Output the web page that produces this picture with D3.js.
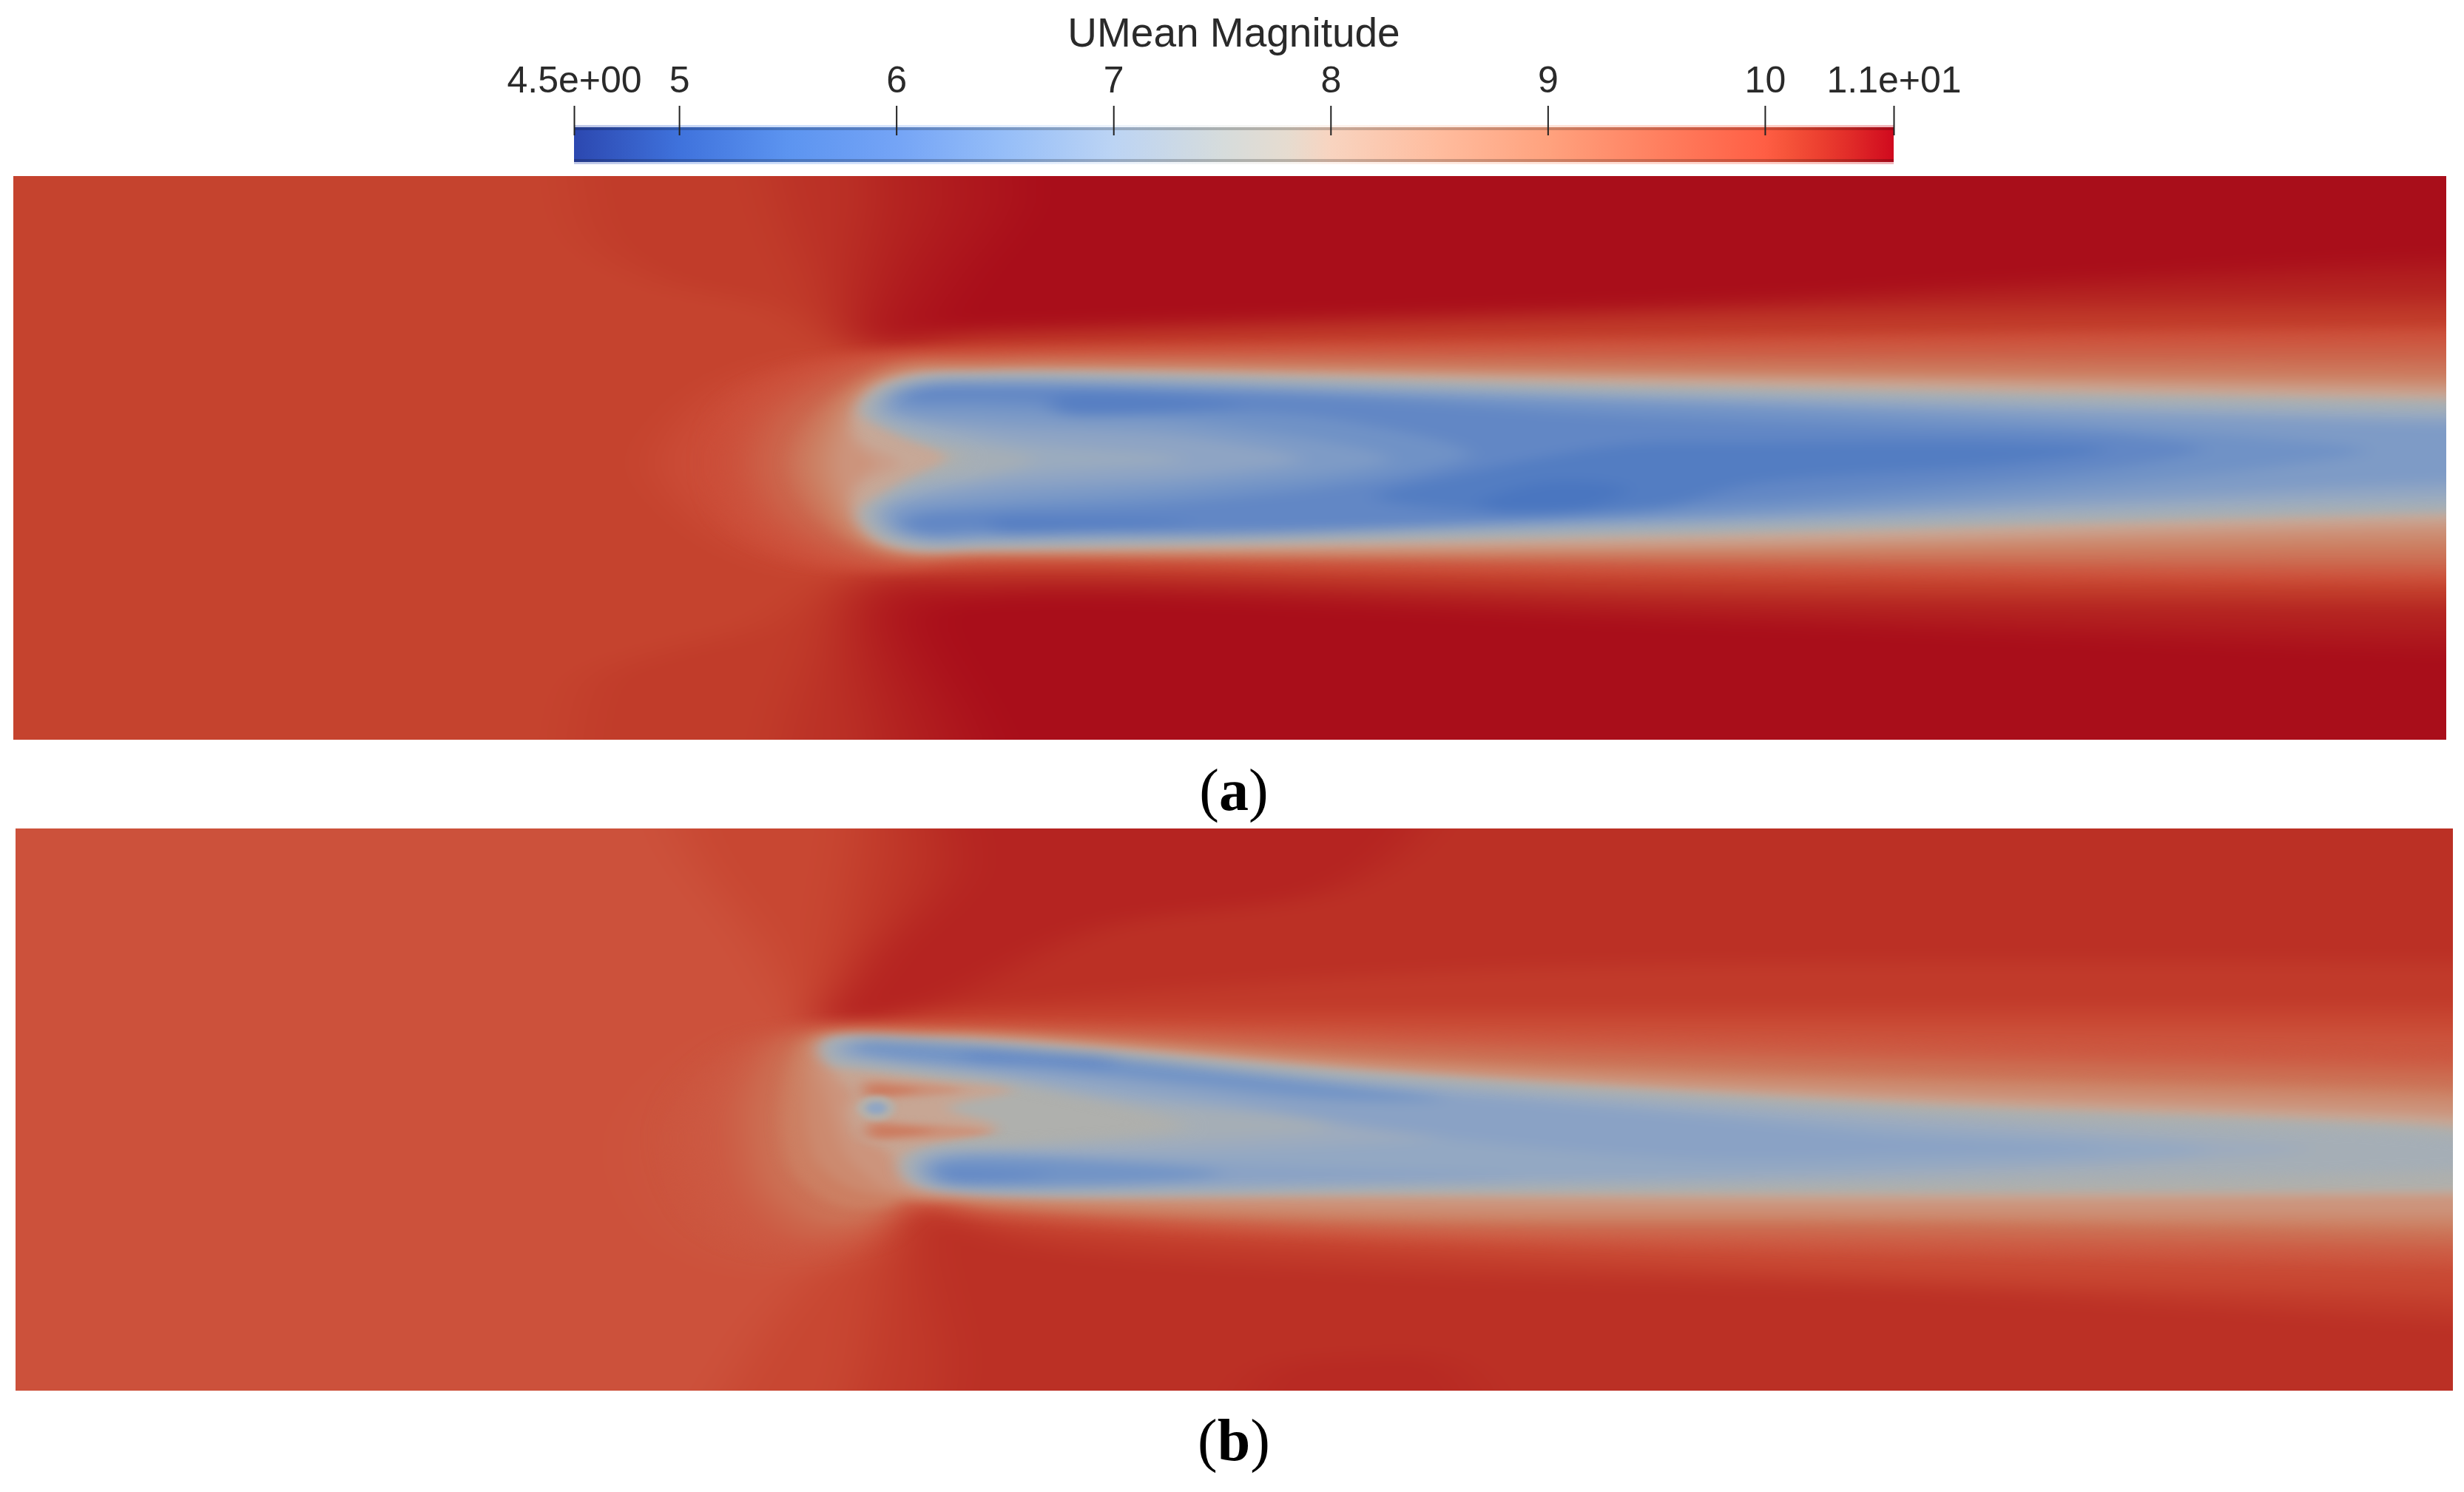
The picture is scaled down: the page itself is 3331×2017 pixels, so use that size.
<!DOCTYPE html>
<html>
<head>
<meta charset="utf-8">
<script src="https://cdn.jsdelivr.net/npm/d3@7"></script>
<style>
    html, body { margin: 0; padding: 0; background: #fff; }
</style>
</head>
<body>
<svg id="chart" width="3331" height="2017"></svg>
<script>
// colour bar
const colorStops = [4.52, 5, 5.5, 6, 6.5, 7, 7.5, 7.8, 8, 8.5, 9, 9.5, 10, 10.1, 10.25, 10.4, 10.59];
const colorValues = ['#2c48b0', '#3f72dc', '#5c94f0', '#74a4f6', '#96bef8', '#bcd4f4', '#d6dcdc', '#e6dcd0', '#f8d4c0',
    '#ffbc9e', '#ffa27e', '#ff8060', '#ff5e44', '#f6543a', '#ec4030', '#e02a28', '#d00a1e'];
const barTicks = [4.516, 5, 6, 7, 8, 9, 10, 10.593];
const barTickLabels = ['4.5e+00', '5', '6', '7', '8', '9', '10', '1.1e+01'];
const barTitle = 'UMean Magnitude';
const panelLabels = ['a', 'b'];

// isobands: [UMean, [[x, y], ...]], painted from the outside in
const baseA = 10.1;
const farFieldA = [
    [10.17, [[75.9, -10], [75.9, 0], [78.6, 8.7], [87.5, 14.2], [102.7, 17.7], [113.4, 23.2], [132, 23.5], [228, 22], [338, 20.5], [338, -10]]],
    [10.27, [[101.8, -10], [103, 0], [107, 12], [113.4, 22.5], [132, 22.2], [228, 19.7], [338, 18], [338, -10]]],
    [10.4, [[118, -10], [116, 4], [114.5, 21.8], [132, 21.2], [228, 18.2], [338, 16.3], [338, -10]]],
    [10.48, [[126, -10], [125.5, 4], [120, 14], [116.5, 21], [128, 21], [158, 20], [228, 17.7], [278, 15], [338, 13], [338, -10]]],
    [10.55, [[136.2, -10], [134.8, 4.2], [127.7, 14.2], [124.2, 20.2], [128.2, 20.2], [158.2, 19.2], [228.2, 16.7], [278.2, 13.7], [338, 10.7], [338, -10]]],
    [10.17, [[75.9, 90], [75.9, 76], [78.6, 67.7], [87.5, 64.2], [100.9, 60.7], [113.4, 53.7], [132, 53], [228, 54.7], [338, 55.7], [338, 90]]],
    [10.27, [[103.2, 90], [104.5, 76], [108, 65], [113.4, 54.5], [132, 53.7], [228, 55.9], [338, 57], [338, 90]]],
    [10.4, [[118.2, 90], [116, 76], [114.5, 56.7], [132, 54.7], [228, 56.9], [338, 58.2], [338, 90]]],
    [10.48, [[125, 90], [124, 76], [117.5, 58], [132, 56], [228, 58.7], [338, 61.5], [338, 90]]],
    [10.55, [[132.2, 90], [131, 76], [123.2, 59.2], [132.2, 57.2], [228, 60.2], [338, 64.2], [338, 90]]],
    [9.97, [[338, 20.5], [228, 22], [132, 23.6], [118, 24], [105, 25], [94, 30], [88, 38.7], [94, 47], [105, 52.5], [118, 53.3], [132, 52.6], [228, 54], [338, 55]]]
];
const haloA = [
    [9.85, [[338, 21], [228, 22.2], [132, 23.6], [118, 24], [107, 26], [98.7, 31], [96.7, 38.7], [98.7, 46.4], [107, 51.4], [118, 53], [132, 52.2], [228, 53.4], [338, 54.4]]],
    [9.65, [[338, 22.5], [228, 23.3], [132, 24.1], [118, 24.7], [109, 27.5], [102, 32.5], [99.7, 38.7], [102, 45], [109, 50], [118, 52.2], [132, 51.8], [228, 52.7], [338, 53.5]]],
    [9.45, [[338, 23.9], [228, 24.2], [132, 24.5], [118, 25.2], [111, 28], [104.5, 33], [102.2, 38.7], [104.5, 44.4], [111, 49.4], [118, 51.8], [132, 51.5], [228, 52.2], [338, 52.9]]]
];
const wakeA = [
    [9.25, [[338, 25.2], [228, 25], [132, 24.9], [119, 25.5], [112.5, 28.5], [107, 33.5], [105, 38.7], [107, 44], [112.5, 49], [119, 51.4], [132, 51.3], [228, 51.7], [338, 51.7]]],
    [9.05, [[338, 26.5], [228, 25.9], [132, 25.4], [119, 25.9], [113, 28.8], [108.8, 33.8], [107, 38.7], [108.8, 43.6], [113, 48.6], [119, 51], [132, 51.2], [228, 51.2], [338, 50.4]]],
    [8.8, [[338, 27.4], [228, 26.4], [132, 25.7], [119.5, 26.3], [114, 29], [110.5, 34], [109.2, 38.7], [110.5, 43.4], [114, 48.4], [119.5, 50.8], [132, 51], [228, 50.7], [338, 49.2]]],
    [8.55, [[338, 28.2], [228, 26.9], [132, 26], [120, 26.7], [114.8, 29.3], [112.3, 34], [111.4, 38.7], [112.3, 43.4], [114.8, 48.1], [120, 50.5], [132, 50.7], [228, 50.2], [338, 47.9]]],
    [8.3, [[338, 28.7], [228, 27.2], [132, 26.2], [120, 26.9], [115.5, 29], [113.3, 33], [114.2, 36.5], [116.5, 38.7], [114.2, 41], [113.3, 44.5], [115.5, 48.3], [120, 50.3], [132, 50.5], [228, 49.7], [338, 47]]],
    [8.05, [[338, 29.4], [228, 27.5], [132, 26.3], [119.7, 27], [115.7, 28.7], [113.5, 32.2], [114.2, 35.2], [119.7, 38.7], [114.2, 42.2], [113.5, 45.2], [115.7, 48.7], [119.7, 50.4], [132, 50.4], [228, 49.2], [338, 46.3]]],
    [7.6, [[338, 30.4], [228, 28.5], [132, 26.7], [120.7, 27.4], [116.2, 29.2], [114.5, 31.5], [119.4, 34.5], [126.2, 37.9], [120.3, 41.5], [114.5, 45.5], [116.2, 48.2], [120.7, 50], [132, 50], [228, 48.2], [338, 45.1]]]
];
const coreA = [
    [7.35, [[338, 30.8], [228, 29], [132, 27], [121.5, 27.5], [117, 29.5], [115.5, 32], [120.3, 34.8], [128.5, 38], [120.8, 41.4], [115.5, 45.4], [117, 48], [121.5, 49.7], [132, 49.7], [228, 47.7], [338, 44.9]]],
    [7.1, [[338, 31.9], [228, 29.4], [132, 27.2], [122.2, 27.7], [117.7, 29.7], [116.4, 32.2], [121.2, 34.6], [132, 36.6], [138.2, 38.2], [132, 40.3], [121.2, 42], [116.4, 45.2], [117.7, 47.7], [122.2, 49.5], [132, 49.5], [228, 47.2], [338, 43.8]]],
    [6.85, [[338, 32.6], [228, 29.8], [132, 27.4], [122.8, 27.8], [118, 29.5], [117.2, 31], [131.9, 35.2], [158.2, 38.2], [131.9, 40.9], [117.2, 45.4], [118, 47.5], [122.8, 49.2], [132, 49.2], [228, 46.7], [338, 42.6]]],
    [6.6, [[338, 33.6], [228, 30.4], [132, 27.7], [123.2, 28], [118.7, 29.2], [118.2, 31.7], [131.9, 33.5], [159.4, 35.2], [174.2, 38.2], [159.4, 40.5], [131.9, 42.5], [118.2, 45], [118.7, 47.4], [123.2, 48.9], [132.2, 48.7], [228.2, 46.2], [338, 41]]],
    [6.35, [[318, 37], [303.2, 35.2], [228, 31], [132, 28.1], [124, 28.4], [119.7, 29.5], [119.7, 30.7], [131.9, 31.7], [159.4, 33.2], [186.2, 38.2], [159.4, 42.2], [131.9, 44.2], [119.7, 46.2], [119.7, 47.3], [124, 48.5], [132, 48.4], [228, 45.7], [303.2, 39.5]]],
    [6.1, [[296, 36.8], [285, 35], [255.7, 33.9], [214.5, 32.2], [173.2, 29.5], [132.2, 28.5], [122.2, 28.8], [120.7, 30], [131.9, 30.2], [159.4, 31.5], [180, 33], [197, 37.5], [186.9, 40.5], [159.4, 43.9], [131.9, 45.2], [122.2, 45.7], [120.7, 46.7], [122.2, 48], [132.2, 47.6], [158.2, 48.2], [187, 47.4], [214.5, 45.5], [255.7, 42.2], [285, 39.2]]],
    [5.85, [[140.8, 29.8], [156, 29.6], [166.3, 31], [156, 31.9], [140.8, 31.6]]],
    [5.85, [[132.2, 46.4], [145, 46.1], [159.5, 46.6], [145, 47.9], [132.2, 47.6]]],
    [5.75, [[184.2, 43.2], [198.2, 39.7], [218.2, 36.2], [235.1, 35.9], [269.5, 35.9], [283.2, 36.9], [269.5, 38.9], [235.1, 41.5], [221.4, 44.9], [193.9, 44.9]]],
    [5.5, [[198.2, 44.2], [207.6, 41.2], [218.2, 42.2], [213.2, 44.7], [200.2, 45.2]]]
];

const baseB = 9.9;
const farFieldB = [
    [10.05, [[89.9, -10], [89.9, 0], [100, 15], [108.6, 26.5], [124.7, 26.3], [254.9, 27], [323, 27.3], [338, 27.5], [338, -10]]],
    [10.18, [[113.9, -10], [113.5, 0], [110, 20], [109, 26], [124.7, 25.3], [254.9, 24.5], [338, 24.5], [338, -10]]],
    [10.28, [[121, -10], [120, 5], [113, 20], [109.5, 26], [124.7, 24.5], [200, 19], [338, 18], [338, -10]]],
    [10.38, [[126, -10], [126.5, 6], [115, 18], [108.8, 26.3], [125, 23.2], [146, 13.5], [178.4, 8], [189.1, 0], [192, -10]]],
    [10.05, [[92.9, 90], [100, 70], [112.2, 56.5], [121, 50.5], [125, 52], [186.4, 55.7], [254.9, 58], [323, 59.7], [338, 60], [338, 90]]],
    [10.18, [[113.9, 90], [115, 70], [118, 56], [121, 50.8], [130, 53], [186.4, 57.3], [254.9, 60.7], [323, 63.3], [338, 64], [338, 90]]],
    [10.28, [[126.9, 90], [125, 70], [122, 55], [123, 52], [135, 56], [186.4, 60], [254.9, 62.3], [323, 66.3], [338, 67], [338, 90]]],
    [10.33, [[165, 90], [168, 74], [180, 71.5], [195, 73], [200, 90]]],
    [9.82, [[338, 28], [254.9, 27.5], [124.7, 26.6], [106, 26.5], [96, 28], [86, 36], [83, 44], [88, 55], [100, 60], [114, 58], [121, 51], [131.6, 52.5], [186.4, 55.5], [254.9, 57.5], [338, 59]]]
];
const haloB = [
    [9.75, [[338, 30.8], [323.4, 30.5], [254.9, 29.2], [186.4, 28], [124.7, 26.7], [108, 26.8], [99, 29], [91.5, 36], [90, 43], [94, 53], [103, 57.5], [114, 56], [120.7, 51], [131.6, 52], [186.4, 55], [254.9, 56.8], [323.4, 58.2], [338, 58.5]]],
    [9.55, [[338, 32], [323.4, 31.7], [254.9, 30.3], [186.4, 28.7], [124.7, 27], [107, 27.2], [101, 29.5], [97, 36], [96.8, 41], [99, 50], [106, 55.5], [115, 54.5], [120.7, 50.5], [131.6, 51.7], [186.4, 54.5], [254.9, 55.8], [323.4, 57], [338, 57.3]]],
    [9.3, [[338, 33.6], [323.4, 33.3], [254.9, 31.7], [186.4, 29.8], [124.7, 27.2], [107, 27.8], [103, 30], [100.5, 36], [99.9, 41], [102, 48.5], [109, 53.5], [117, 52.5], [120.5, 50], [131.6, 51.3], [186.4, 53.8], [254.9, 54.5], [323.4, 55.7], [338, 56]]]
];
const wakeB = [
    [9.05, [[338, 35.5], [323.4, 35], [254.9, 33.3], [186.4, 31], [124.7, 27.5], [107, 28.3], [104.8, 31], [103.6, 36], [103.4, 41], [105, 46.5], [111, 51], [118, 51], [120.3, 49.6], [131.6, 51], [186.4, 53], [254.9, 53.3], [323.4, 54.3], [338, 54.5]]],
    [8.8, [[338, 36.6], [323.4, 36], [254.9, 34.2], [186.4, 31.6], [124.7, 27.7], [107.6, 28.8], [106.5, 31.5], [106.5, 36], [106.9, 41], [108.2, 45], [112.5, 48.5], [118, 49.8], [131.6, 50.5], [186.4, 52.3], [254.9, 52.7], [323.4, 53.2], [338, 53.2]]],
    [8.55, [[338, 38], [323.4, 37.3], [254.9, 35.3], [186.4, 32.3], [124.7, 28], [108.4, 29.2], [108, 32], [109.4, 36], [110.4, 40], [112, 44], [115, 47], [118.5, 49], [131.6, 50], [186.4, 51.3], [254.9, 51.7], [323.4, 52], [338, 52]]],
    [8.1, [[338, 39.5], [323.4, 38.7], [254.9, 36.3], [186.4, 32.8], [124.7, 28.3], [108.9, 29.7], [110.4, 33], [112.9, 36], [112.4, 38.5], [113.9, 42], [117.4, 43.3], [119.1, 46.3], [120, 48], [128.1, 49.3], [186.4, 50], [254.9, 50.3], [323.4, 49.8], [338, 49.6]]],
    [7.6, [[338, 41], [323.4, 40], [254.9, 37.3], [186.4, 33.3], [124.7, 28.5], [109.4, 28.5], [108.7, 29.5], [109.9, 32], [112, 32.3], [123.6, 33.7], [134.8, 35.3], [125.9, 37.8], [132.5, 40.3], [123.6, 43], [120, 44.3], [119.6, 46.3], [121.8, 48], [128.1, 49.2], [186.4, 49.3], [254.9, 49.3], [323.4, 49], [338, 48.9]]]
];
const coreB = [
    [7.35, [[338, 42.5], [323.4, 41.2], [254.9, 38.2], [186.4, 33.8], [124.7, 28.9], [110, 28.8], [109.2, 29.8], [110.4, 31.5], [114.7, 32], [134.8, 34.5], [157.9, 40.3], [134.8, 42.8], [122, 43.8], [120.4, 46], [122, 48], [128, 49], [186.4, 48.8], [254.9, 48], [323.4, 46.5], [338, 46]]],
    [7.15, [[309.7, 43.3], [295.9, 42], [254.9, 39], [186.4, 34.3], [124.7, 29.2], [111.4, 28.8], [110.4, 29.5], [110.9, 30.8], [114.7, 31.7], [132.5, 33.7], [145.3, 36.3], [177.9, 40.3], [145.3, 42.8], [126.9, 43.5], [122, 44], [121.1, 46], [122, 48], [127.9, 48.8], [145.3, 49], [186.4, 48.3], [254.9, 47], [295.9, 44.7]]],
    [6.95, [[296, 43.5], [254.9, 40.3], [186.4, 34.8], [128, 29.3], [112, 28.9], [110.8, 29.5], [111.5, 30.6], [114.7, 31.3], [132, 33.3], [152, 36.5], [198, 41], [152, 44], [124.7, 44.2], [121.8, 46.2], [124.7, 48.3], [152, 48.6], [186.4, 48], [254.9, 46]]],
    [6.8, [[282.3, 43.3], [254.9, 41.7], [227.5, 39], [186.4, 35.3], [131.6, 29.5], [112.9, 29], [111.1, 29.4], [111.9, 30.4], [114.7, 31], [131.6, 33], [159, 36.3], [186.4, 41], [227.5, 44.7], [254.9, 44.3]]],
    [6.8, [[124.7, 44.3], [131.6, 44], [179.5, 46], [202.9, 47], [179.5, 47.7], [131.6, 48.3], [124.7, 48], [122.4, 46.5], [122.9, 45]]],
    [6.4, [[192.9, 36.5], [179.5, 34.7], [159, 32.3], [141.5, 30.3], [119.1, 28.8], [113.9, 28.8], [113.4, 29.8], [119.1, 31.1], [141.5, 32.7], [159, 34.7], [179.5, 36.7]]],
    [6.4, [[123.6, 45.3], [150.4, 45.3], [162.9, 46.7], [150.4, 48], [126.1, 48], [123.4, 47]]],
    [6.15, [[128.1, 30.3], [137.9, 30.5], [148.2, 31.2], [148.2, 32.2], [137.9, 31.8], [128.1, 31.2]]],
    [6.15, [[125, 46.2], [132, 46], [140, 46.7], [132, 47.7], [125, 47.6]]]
];
const streaksB = [
    [8.6, [[114.4, 34.2], [119, 34.2], [128, 35.4], [119, 36.5], [114.9, 36.5]]],
    [8.6, [[114.9, 39.8], [120.9, 39.8], [132, 41], [120.9, 42.1], [114.9, 41.9]]],
    [9.1, [[114.8, 34.8], [118, 34.8], [122, 35.4], [118, 36], [114.8, 36]]],
    [9.1, [[115.3, 40.3], [119, 40.3], [124, 40.9], [119, 41.6], [115.3, 41.5]]]
];
const spotB = [
    [7.7, [[113.6, 37.8], [114.8, 36.4], [117.6, 36.4], [118.8, 37.8], [117.6, 39.2], [114.8, 39.2]]],
    [6.9, [[114.8, 37.8], [115.5, 37.1], [116.9, 37.1], [117.6, 37.8], [116.9, 38.5], [115.5, 38.5]]]
];

const svg = d3.select('#chart');
const defs = svg.append('defs');

const colormap = d3.scaleLinear().domain(colorStops).range(colorValues);
// the slices are rendered with a light that takes about a fifth off the colour map
const shaded = value => {
    const c = d3.rgb(colormap(value));
    return d3.rgb(c.r * 0.8, c.g * 0.8, c.b * 0.8).formatHex();
};

function addBlur(id, sx, sy) {
    defs.append('filter').attr('id', id)
        .attr('filterUnits', 'userSpaceOnUse')
        .attr('x', -300).attr('y', -300).attr('width', 4200).attr('height', 2800)
        .attr('color-interpolation-filters', 'sRGB')
        .append('feGaussianBlur').attr('stdDeviation', `${sx} ${sy}`);
}
addBlur('blurFar', 34, 11);
addBlur('blurHalo', 24, 8);
addBlur('blurWake', 10, 6);
addBlur('blurCore', 15, 8);
addBlur('blurStreak', 11, 4);
addBlur('blurSpot', 4, 3);

// runs bands that leave the panel on the right far past its edge, so the closing curve stays out of sight
function railed(points) {
    const out = [];
    points.forEach((p, i) => {
        const q = points[(i + 1) % points.length];
        out.push(p);
        if (p[0] >= 338 && q[0] >= 338) out.push([420, p[1]], [420, q[1]]);
    });
    return out;
}

function drawPanel(name, box, base, layers) {
    const x = d3.scaleLinear().domain([0, 329]).range([box.left, box.right]);
    const y = d3.scaleLinear().domain([0, 76]).range([box.top, box.bottom]);
    const outline = d3.line().x(d => x(d[0])).y(d => y(d[1])).curve(d3.curveCatmullRomClosed.alpha(0.5));

    defs.append('clipPath').attr('id', `clip${name}`)
        .append('rect').attr('x', box.left).attr('y', box.top)
        .attr('width', box.right - box.left).attr('height', box.bottom - box.top);

    const panel = svg.append('g').attr('clip-path', `url(#clip${name})`);

    layers.forEach(([blur, bands], i) => {
        const g = panel.append('g').attr('filter', `url(#${blur})`);
        if (i === 0) {
            g.append('rect')
                .attr('x', x(-30)).attr('y', y(-20))
                .attr('width', x(370) - x(-30)).attr('height', y(100) - y(-20))
                .attr('fill', shaded(base));
        }
        g.selectAll('path').data(bands).join('path')
            .attr('d', d => outline(railed(d[1])))
            .attr('fill', d => shaded(d[0]));
    });
}

function drawColorBar() {
    const barX = d3.scaleLinear().domain([barTicks[0], barTicks[barTicks.length - 1]]).range([776, 2560]);
    const barTop = 172, barBottom = 219;

    const gradient = defs.append('linearGradient').attr('id', 'barGradient');
    gradient.selectAll('stop').data(colorStops).join('stop')
        .attr('offset', d => Math.max(0, Math.min(1, (barX(d) - 776) / (2560 - 776))))
        .attr('stop-color', d => colormap(d));

    svg.append('rect').attr('x', 776).attr('y', barTop)
        .attr('width', 2560 - 776).attr('height', barBottom - barTop)
        .attr('fill', 'url(#barGradient)');
    // soft rim the bar has top and bottom: a pale line outside, a darker one inside
    [[barTop - 3, 3], [barBottom, 3]].forEach(r => {
        svg.append('rect').attr('x', 776).attr('y', r[0])
            .attr('width', 2560 - 776).attr('height', r[1])
            .attr('fill', 'url(#barGradient)').attr('opacity', 0.3);
    });
    [[barTop, 4], [barBottom - 4, 4]].forEach(r => {
        svg.append('rect').attr('x', 776).attr('y', r[0])
            .attr('width', 2560 - 776).attr('height', r[1])
            .attr('fill', '#000').attr('opacity', 0.2);
    });

    const axis = d3.axisTop(barX)
        .tickValues(barTicks)
        .tickFormat((d, i) => barTickLabels[i])
        .tickSize(40)
        .tickPadding(18);
    const g = svg.append('g').attr('transform', 'translate(0,183)').call(axis);
    g.select('.domain').remove();
    g.selectAll('line').attr('stroke', '#222').attr('stroke-width', 2);
    g.selectAll('text')
        .attr('fill', '#2a2a2a')
        .style('font-family', '"Liberation Sans", Arial, sans-serif')
        .style('font-size', '50px');

    svg.append('text')
        .attr('x', barX.range()[0] / 2 + barX.range()[1] / 2).attr('y', 63)
        .attr('text-anchor', 'middle')
        .attr('fill', '#2a2a2a')
        .style('font-family', '"Liberation Sans", Arial, sans-serif')
        .style('font-size', '55px')
        .text(barTitle);
}

function drawLabel(letter, baseline) {
    const t = svg.append('text')
        .attr('x', 1668).attr('y', baseline)
        .attr('text-anchor', 'middle')
        .attr('fill', '#000')
        .style('font-family', '"Liberation Serif", "Times New Roman", serif')
        .style('font-size', '80px');
    t.append('tspan').text('(');
    t.append('tspan').style('font-weight', 'bold').text(letter);
    t.append('tspan').text(')');
}

drawPanel('A', { left: 18, right: 3307, top: 238, bottom: 1000 }, baseA, [
    ['blurFar', farFieldA], ['blurHalo', haloA], ['blurWake', wakeA], ['blurCore', coreA]
]);
drawPanel('B', { left: 21, right: 3316, top: 1120, bottom: 1880 }, baseB, [
    ['blurFar', farFieldB], ['blurHalo', haloB], ['blurWake', wakeB], ['blurCore', coreB], ['blurStreak', streaksB], ['blurSpot', spotB]
]);
drawColorBar();
drawLabel(panelLabels[0], 1095);
drawLabel(panelLabels[1], 1974);
</script>
</body>
</html>
